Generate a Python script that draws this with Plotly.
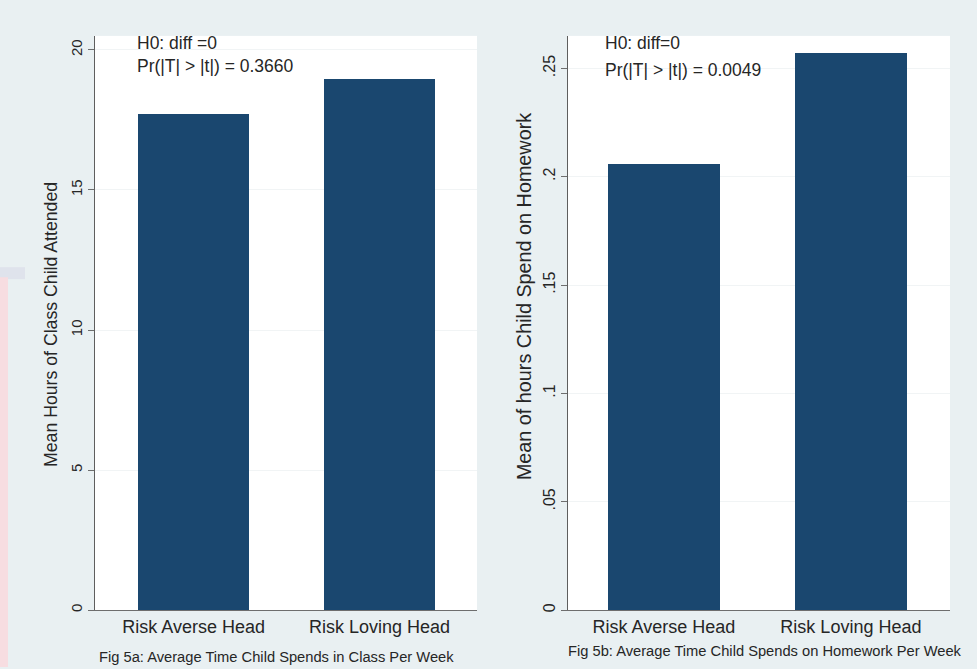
import plotly.graph_objects as go

W, H = 977, 669

# Data
categories = ["Risk Averse Head", "Risk Loving Head"]
class_hours = [17.72, 18.97]
homework_hours = [0.206, 0.257]
class_ticks = [0, 5, 10, 15, 20]
class_tick_labels = ["0", "5", "10", "15", "20"]
hw_ticks = [0, 0.05, 0.10, 0.15, 0.20, 0.25]
hw_tick_labels = ["0", ".05", ".1", ".15", ".2", ".25"]
ttest_left = ["H0: diff =0", "Pr(|T| > |t|) = 0.3660"]
ttest_right = ["H0: diff=0", "Pr(|T| > |t|) = 0.0049"]
caption_left = "Fig 5a: Average Time Child Spends in Class Per Week"
caption_right = "Fig 5b: Average Time Child Spends on Homework Per Week"
ytitle_left = "Mean Hours of Class Child Attended"
ytitle_right = "Mean of hours Child Spend on Homework"

BAR = "#1a476f"
BG = "#e9f0f2"
TXT = "#262626"
FONT = "Liberation Sans, Arial, sans-serif"


def px_x(v):
    return v / W


def px_y(v):
    return 1 - v / H


fig = go.Figure()
fig.add_trace(go.Bar(x=[0, 1], y=class_hours, width=0.6, marker=dict(color=BAR, line=dict(width=0)),
                     xaxis="x", yaxis="y", showlegend=False, hoverinfo="skip"))
fig.add_trace(go.Bar(x=[0, 1], y=homework_hours, width=0.6, marker=dict(color=BAR, line=dict(width=0)),
                     xaxis="x2", yaxis="y2", showlegend=False, hoverinfo="skip"))

ydom = [px_y(612), px_y(36)]

xcommon = dict(tickvals=[0, 1], ticktext=categories, showgrid=False, zeroline=False,
               showline=True, linecolor="#6e6e6e", linewidth=1, ticks="",
               tickfont=dict(size=18, color=TXT, family=FONT), fixedrange=True)
ycommon = dict(showgrid=True, gridcolor="#f1f4f5", gridwidth=1, zeroline=False,
               showline=True, linecolor="#5e5e5e", linewidth=1, ticks="outside",
               ticklen=6, tickcolor="#6e6e6e", tickangle=-90, fixedrange=True)

fig.update_layout(
    width=W, height=H,
    margin=dict(l=0, r=0, t=0, b=0),
    paper_bgcolor=BG, plot_bgcolor="white",
    font=dict(family=FONT, color=TXT),
    bargap=0,
    xaxis=dict(domain=[px_x(95), px_x(477)], range=[-0.53, 1.524], anchor="y", **xcommon),
    yaxis=dict(domain=ydom, range=[0, 20.5], tickvals=class_ticks, ticktext=class_tick_labels,
               anchor="x", tickfont=dict(size=15, color=TXT, family=FONT), **ycommon),
    xaxis2=dict(domain=[px_x(568), px_x(950)], range=[-0.513, 1.53], anchor="y2", **xcommon),
    yaxis2=dict(domain=ydom, range=[0, 0.265], tickvals=hw_ticks, ticktext=hw_tick_labels,
                anchor="x2", tickfont=dict(size=16, color=TXT, family=FONT), **ycommon),
)

ann = []
# t-test results inside each panel
for (txt, xp, yp) in [(ttest_left[0], 135, 43), (ttest_left[1], 135, 66),
                      (ttest_right[0], 603, 43), (ttest_right[1], 603, 70)]:
    ann.append(dict(text=txt, x=px_x(xp), y=px_y(yp), xref="paper", yref="paper",
                    xanchor="left", yanchor="middle", showarrow=False,
                    font=dict(size=17.5, color=TXT, family=FONT)))
# y-axis titles
for (txt, xp, yp, fs) in [(ytitle_left, 51, 326, 17.7), (ytitle_right, 524, 298, 19.8)]:
    ann.append(dict(text=txt, x=px_x(xp), y=px_y(yp), xref="paper", yref="paper",
                    xanchor="center", yanchor="middle", textangle=-90, showarrow=False,
                    font=dict(size=fs, color=TXT, family=FONT)))
# captions
for (txt, xp, yp) in [(caption_left, 276, 659), (caption_right, 765, 653)]:
    ann.append(dict(text=txt, x=px_x(xp), y=px_y(yp), xref="paper", yref="paper",
                    xanchor="center", yanchor="middle", showarrow=False,
                    font=dict(size=14.7, color=TXT, family=FONT)))
fig.update_layout(annotations=ann)

# faint tinted strip along the left page edge
fig.update_layout(shapes=[
    dict(type="rect", xref="paper", yref="paper", x0=0, x1=px_x(25), y0=px_y(280), y1=px_y(268),
         fillcolor="#dfe3ec", line=dict(width=0), layer="below"),
    dict(type="rect", xref="paper", yref="paper", x0=0, x1=px_x(8), y0=0, y1=px_y(278),
         fillcolor="#f7dde1", line=dict(width=0), layer="below"),
])

fig.write_html("out.html", config=dict(displayModeBar=False))
